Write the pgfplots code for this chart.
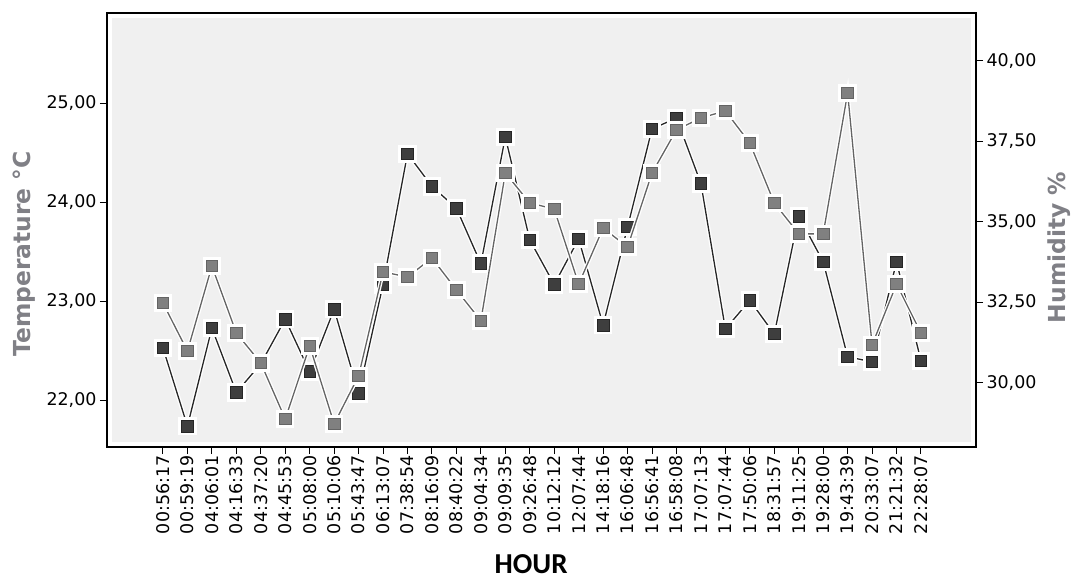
\documentclass[border=0pt]{standalone}
\usepackage{fontspec}
\setmainfont{DejaVu Sans}
\newfontfamily\carlito{Carlito}
\usepackage{pgfplots}
\usepackage{pgfplotstable}
\pgfplotsset{compat=1.18}
\definecolor{plotbg}{RGB}{240,240,240}
\definecolor{darkfill}{RGB}{62,62,62}
\definecolor{darkline}{RGB}{38,38,38}
\definecolor{lightfill}{RGB}{128,128,128}
\definecolor{lightline}{RGB}{100,100,100}
\definecolor{titlegray}{RGB}{128,128,134}
\pgfplotstableread{
idx T H
0 22.53 32.48
1 21.74 30.99
2 22.73 33.63
3 22.08 31.55
4 22.37 30.62
5 22.82 28.88
6 22.29 31.15
7 22.92 28.73
8 22.07 30.22
9 23.17 33.45
10 24.49 33.29
11 24.16 33.88
12 23.94 32.89
13 23.38 31.93
14 24.66 36.52
15 23.62 35.59
16 23.17 35.40
17 23.63 33.07
18 22.76 34.81
19 23.75 34.22
20 24.74 36.52
21 24.85 37.86
22 24.19 38.23
23 22.72 38.45
24 23.01 37.45
25 22.67 35.59
26 23.86 34.63
27 23.40 34.63
28 22.44 39.01
29 22.39 31.18
30 23.40 33.07
31 22.40 31.55
}\data
\pgfplotsset{
  common/.style={
    scale only axis, width=869bp, height=434bp,
    xmin=-2.29, xmax=33.25,
    /pgf/number format/assume math mode=true,
    /pgf/number format/.cd, fixed, fixed zerofill, precision=2, use comma, /pgfplots/.cd,
    tick align=outside, major tick length=7bp,
    tick style={black, line width=1bp},
    ticklabel style={font=\fontsize{17.5}{18}\selectfont, black},
    axis line style={black, line width=1.6bp},
  }
}
\begin{document}
\begin{tikzpicture}
\begin{axis}[common, name=ax1,
  ymin=21.53, ymax=25.91,
  ytick={22,23,24,25},
  ytick pos=left, xtick pos=bottom,
  xtick={0,...,31},
  xticklabels={00:56:17,00:59:19,04:06:01,04:16:33,04:37:20,04:45:53,05:08:00,05:10:06,05:43:47,06:13:07,07:38:54,08:16:09,08:40:22,09:04:34,09:09:35,09:26:48,10:12:12,12:07:44,14:18:16,16:06:48,16:56:41,16:58:08,17:07:13,17:07:44,17:50:06,18:31:57,19:11:25,19:28:00,19:43:39,20:33:07,21:21:32,22:28:07},
  x tick label style={rotate=90, anchor=east, inner sep=1.5bp},
  axis background/.style={fill=plotbg, draw=white, line width=10bp},
  ylabel={Temperature °C},
  ylabel style={at={(axis description cs:-0.0955,0.445)}, anchor=center, font=\fontsize{23.5}{24}\selectfont\bfseries, text=titlegray},
  xlabel={HOUR},
  xlabel style={at={(axis description cs:0.488,-0.27)}, anchor=center, inner sep=1bp, font=\fontsize{29}{29}\selectfont\carlito\bfseries, text=black},
]
\addplot[white, line width=4bp, mark=square*, mark size=7.2bp, mark options={fill=white, draw=white}] table[x=idx, y=T] {\data};
\addplot[darkline, line width=1.3bp, mark=square*, mark size=5.8bp, mark options={fill=darkfill, draw=darkline, line width=0.8bp}] table[x=idx, y=T] {\data};
\end{axis}
\begin{axis}[common,
  ymin=28.01, ymax=41.49,
  ytick={30,32.5,35,37.5,40},
  hide x axis,
  axis y line*=right,
  ylabel={Humidity \%},
  ylabel style={at={(axis description cs:1.0955,0.46)}, anchor=center, rotate=0, font=\fontsize{23.5}{24}\selectfont\bfseries, text=titlegray},
]
\addplot[white, line width=4bp, mark=square*, mark size=7.2bp, mark options={fill=white, draw=white}] table[x=idx, y=H] {\data};
\addplot[lightline, line width=1.3bp, mark=square*, mark size=5.8bp, mark options={fill=lightfill, draw=lightline, line width=0.8bp}] table[x=idx, y=H] {\data};
\end{axis}
\pgfresetboundingbox
\path ([xshift=-107bp,yshift=-136bp]ax1.south west) rectangle ([xshift=99bp,yshift=13bp]ax1.north east);
\end{tikzpicture}
\end{document}
